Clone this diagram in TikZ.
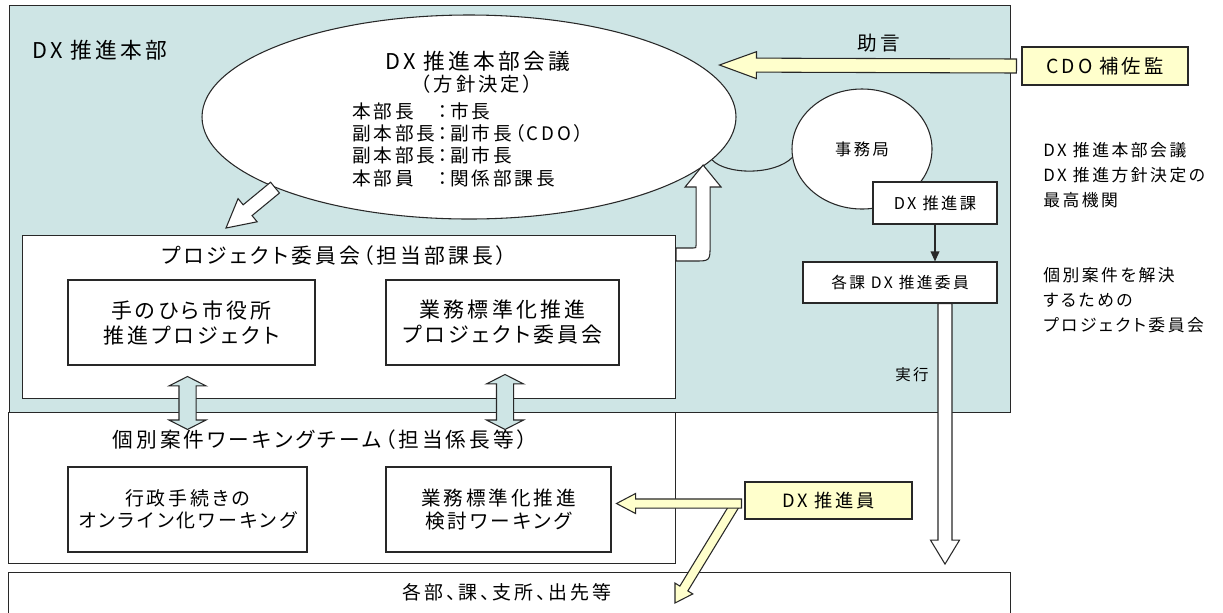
\documentclass[tikz,border=0pt]{standalone}
\usepackage{fontspec}
\setmainfont[RawFeature=+palt,LetterSpace=15]{Noto Sans CJK JP}
\usetikzlibrary{shapes.geometric,calc,arrows.meta}
\definecolor{hqteal}{RGB}{206,229,229}
\definecolor{noteyel}{RGB}{255,255,204}
\definecolor{edgegray}{RGB}{40,40,40}
\newcommand\fsz[2]{\fontsize{#1}{#2}\selectfont}
% block arrow: [style]{start}{tip}{shaft half}{head half}{head length}
\newcommand\blockarrow[6][]{%
  \coordinate (bah) at ($(#3)!#6!(#2)$);
  \draw[#1] ($(#2)!#4!90:(#3)$) -- ($(bah)!#4!90:(#3)$) -- ($(bah)!#5!90:(#3)$) -- (#3)
    -- ($(bah)!#5!-90:(#3)$) -- ($(bah)!#4!-90:(#3)$) -- ($(#2)!#4!-90:(#3)$) -- cycle;}
% double block arrow
\newcommand\dblarrow[6][]{%
  \coordinate (dba) at ($(#2)!#6!(#3)$);
  \coordinate (dbb) at ($(#3)!#6!(#2)$);
  \draw[#1] (#2) -- ($(dba)!#5!90:(#3)$) -- ($(dba)!#4!90:(#3)$) -- ($(dbb)!#4!90:(#3)$)
    -- ($(dbb)!#5!90:(#3)$) -- (#3) -- ($(dbb)!#5!-90:(#3)$) -- ($(dbb)!#4!-90:(#3)$)
    -- ($(dba)!#4!-90:(#3)$) -- ($(dba)!#5!-90:(#3)$) -- cycle;}
\begin{document}
\begin{tikzpicture}[x=0.75pt,y=-0.75pt,
  outline/.style={draw=edgegray, line width=0.8pt},
  rbox/.style={outline, fill=white, rectangle, inner sep=0pt},
  nwbox/.style={rbox, anchor=north west},
  lbl/.style={inner sep=0pt, text=black},
  wharrow/.style={outline, fill=white},
  yarrow/.style={outline, fill=noteyel},
  tarrow/.style={outline, fill=hqteal},
  twoline/.style={align=center}]
\clip (0,0) rectangle (1223,612);
% ---- DX HQ area
\node[nwbox, fill=hqteal, minimum width=750.75pt, minimum height=305.25pt] (hq) at (9,5) {};
\node[lbl, anchor=west, font=\fsz{16.3}{19}] (hqlbl) at (32,50) {DX 推進本部};
% ---- meeting ellipse
\node[ellipse, outline, fill=white, inner sep=0pt, minimum width=400.5pt, minimum height=153pt] (meeting) at (469,117) {};
\node[lbl, anchor=west, font=\fsz{16.3}{19}] (mtitle) at (385,61) {DX 推進本部会議};
\node[lbl, font=\fsz{14.5}{17}\addfontfeatures{RawFeature=-palt}] (msub) at (477,84) {（方針決定）};
\node[lbl, anchor=west, align=left, font=\fsz{14}{16.75}] (mbody) at (352,144.5)
  {本部長　：市長\\副本部長：副市長（CDO）\\副本部長：副市長\\本部員　：関係部課長};
% ---- secretariat
\node[ellipse, outline, fill=white, inner sep=0pt, minimum width=105pt, minimum height=90pt, font=\fsz{12.2}{14}] (office) at (862,149) {事務局};
\draw[outline] (meeting.-10) .. controls +(14,15) and +(-18,18) .. (office.187);
\node[rbox, minimum width=93pt, minimum height=31.5pt, font=\fsz{12.2}{14}] (ka) at (935,203) {DX 推進課};
\node[rbox, minimum width=145.5pt, minimum height=30.75pt, font=\fsz{11.8}{14}] (iin) at (900,282.5) {各課 DX 推進委員};
\draw[edgegray, line width=1pt, -{Triangle[length=7.5pt,width=6.5pt]}] (ka.south) -- (ka.south |- iin.north);
\node[lbl, font=\fsz{14.7}{17}] (advice) at (879,43) {助言};
\node[lbl, font=\fsz{11.6}{14}] (exectxt) at (912,375) {実行};
% ---- CDO adviser
\node[rbox, fill=noteyel, minimum width=124.5pt, minimum height=28.5pt, font=\fsz{14.5}{16}] (cdo) at (1105,66) {CDO 補佐監};
\coordinate (cdos) at ($(cdo.west)+(-5,0)$);
\coordinate (cdot) at ($(cdo.west)+(-302,-1)$);
\blockarrow[yarrow]{cdos}{cdot}{5.25pt}{10.1pt}{27.75pt}
% ---- right side notes
\node[lbl, anchor=west, align=left, font=\fsz{12.6}{18.75}] (note1) at (1043,175)
  {DX 推進本部会議\\DX 推進方針決定の\\最高機関};
\node[lbl, anchor=west, align=left, font=\fsz{12.6}{18.75}] (note2) at (1043,300)
  {個別案件を解決\\するための\\プロジェクト委員会};
% ---- project committee
\node[nwbox, minimum width=489.75pt, minimum height=122.25pt] (proj) at (22,235) {};
\node[lbl, font=\fsz{15.6}{18}] (projt) at (334,256) {プロジェクト委員会（担当部課長）};
\node[rbox, twoline, minimum width=185.25pt, minimum height=63.75pt, font=\fsz{15.7}{18.75}] (p1) at (191.5,322.5) {手のひら市役所\\推進プロジェクト};
\node[rbox, twoline, minimum width=174.75pt, minimum height=63.75pt, font=\fsz{15.7}{18.75}] (p2) at (502.5,322.5) {業務標準化推進\\プロジェクト委員会};
% elbow arrow from project committee up to meeting
\coordinate (elb) at ($(proj.north east)+(0,13)$);
\begin{scope}[shift={(elb)}]
\draw[wharrow] (0,0) -- (17,0) .. controls (20,0) .. (20,-3) -- (20,-61) -- (9,-61) -- (27,-83)
  -- (45,-61) -- (34,-61) -- (34,-3) .. controls (34,13) .. (18,13) -- (0,13) -- cycle;
\end{scope}
% diagonal arrow from meeting down to project committee
\coordinate (dtip) at ($(proj.north west)+(204,-7)$);
\blockarrow[wharrow]{meeting.200}{dtip}{5.25pt}{11.25pt}{21pt}
% ---- working team
\node[nwbox, minimum width=500.25pt, minimum height=113.25pt] (wt) at (8,412) {};
\node[lbl, font=\fsz{15.5}{18}] (wtt) at (320,440) {個別案件ワーキングチーム（担当係長等）};
\node[rbox, twoline, minimum width=179.25pt, minimum height=63.75pt, font=\fsz{14.2}{16.5}] (w1) at (187.5,509.5) {行政手続きの\\オンライン化ワーキング};
\node[rbox, twoline, minimum width=168.75pt, minimum height=63.75pt, font=\fsz{14.7}{17}] (w2) at (498.5,509.5) {業務標準化推進\\検討ワーキング};
% double arrows between committee and working team
\coordinate (d1a) at ($(w1.north)+(0,-90)$);
\coordinate (d1b) at ($(w1.north)+(0,-37)$);
\coordinate (d2a) at ($(w2.north)+(6.5,-92)$);
\coordinate (d2b) at ($(w2.north)+(6.5,-37)$);
\dblarrow[tarrow]{d1a}{d1b}{6.4pt}{13.9pt}{7.1pt}
\dblarrow[tarrow]{d2a}{d2b}{6.4pt}{13.9pt}{7.1pt}
% ---- bottom
\node[nwbox, minimum width=751.5pt, minimum height=45pt] (bot) at (8,572) {};
\node[lbl, font=\fsz{14.2}{17}] (bott) at (507,592) {各部、課、支所、出先等};
% execution arrow
\coordinate (exs) at ($(iin.south)+(45,0)$);
\coordinate (exe) at (exs |- wt.south);
\blockarrow[wharrow]{exs}{exe}{5.25pt}{10.9pt}{18pt}
% ---- DX promoters
\node[rbox, fill=noteyel, minimum width=125.25pt, minimum height=27.75pt, font=\fsz{13.7}{16}] (dxin) at (828.5,500.5) {DX 推進員};
\coordinate (yds) at ($(dxin.west)+(-10,5)$);
\coordinate (ydt) at ($(bot.north west)+(667,31)$);
\blockarrow[yarrow]{yds}{ydt}{3.5pt}{7.8pt}{12.75pt}
\coordinate (yls) at ($(dxin.west)+(-3,3)$);
\coordinate (ylt) at ($(w2.east)+(5,-6)$);
\blockarrow[yarrow]{yls}{ylt}{3.4pt}{7.5pt}{14.25pt}
\end{tikzpicture}
\end{document}
